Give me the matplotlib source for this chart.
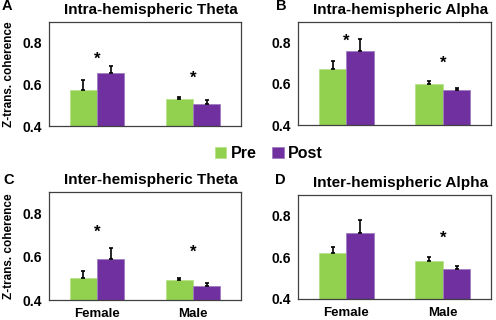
import numpy as np
import matplotlib
matplotlib.use("Agg")
import matplotlib.pyplot as plt

plt.rcParams['font.family'] = ['Liberation Sans', 'DejaVu Sans']
plt.rcParams['font.weight'] = 'bold'

groups = ['Female', 'Male']
titles = ['Intra-hemispheric Theta', 'Intra-hemispheric Alpha',
          'Inter-hemispheric Theta', 'Inter-hemispheric Alpha']
letters = ['A', 'B', 'C', 'D']

pre = [[0.572, 0.530], [0.673, 0.598], [0.504, 0.492], [0.619, 0.583]]
pre_err = [[0.049, 0.010], [0.038, 0.015], [0.028, 0.012], [0.029, 0.017]]
post = [[0.654, 0.507], [0.758, 0.569], [0.591, 0.465], [0.718, 0.541]]
post_err = [[0.035, 0.016], [0.058, 0.011], [0.048, 0.013], [0.063, 0.015]]
# significance stars: (group index, y)
stars = [[(0, 0.722), (1, 0.629)], [(0, 0.806), (1, 0.699)],
         [(0, 0.712), (1, 0.619)], [(1, 0.693)]]

green = '#92D050'
purple = '#7030A0'

fig = plt.figure(figsize=(4.96, 3.2), dpi=100)
boxes = [[0.099, 0.606, 0.387, 0.325], [0.601, 0.609, 0.389, 0.322],
         [0.099, 0.0625, 0.387, 0.3375], [0.601, 0.0666, 0.389, 0.324]]
letter_pos = [(0.004, 0.981), (0.556, 0.981), (0.006, 0.4375), (0.554, 0.4375)]

x = np.arange(len(groups))
w = 0.285
for i in range(4):
    ax = fig.add_axes(boxes[i])
    b1 = ax.bar(x - w / 2, pre[i], w, color=green, edgecolor='#b8e08a', linewidth=0.6,
                yerr=[[0, 0], pre_err[i]], error_kw=dict(ecolor='black', elinewidth=1.2, capsize=1.5, capthick=1.2),
                label='Pre')
    b2 = ax.bar(x + w / 2, post[i], w, color=purple, edgecolor='#a07cc0', linewidth=0.6,
                yerr=[[0, 0], post_err[i]], error_kw=dict(ecolor='black', elinewidth=1.2, capsize=1.5, capthick=1.2),
                label='Post')
    for g, yy in stars[i]:
        ax.text(x[g], yy, '*', ha='center', va='center', fontsize=12)
    ax.set_ylim(0.4, 0.9)
    ax.set_xlim(-0.5, 1.5)
    ax.set_yticks([0.4, 0.6, 0.8])
    ax.set_yticklabels(['0.4', '0.6', '0.8'], fontsize=10, fontweight='bold')
    ax.tick_params(axis='y', length=0, pad=5)
    ax.tick_params(axis='x', length=0, pad=6)
    if i >= 2:
        ax.set_xticks(x)
        ax.set_xticklabels(groups, fontsize=9.5, fontweight='bold')
    else:
        ax.set_xticks([])
    for s in ax.spines.values():
        s.set_color('#404040')
        s.set_linewidth(0.9)
    ax.set_title(titles[i], fontsize=11, fontweight='bold', pad=6, x=0.53)
    if i % 2 == 0:
        ax.set_ylabel('Z-trans. coherence', fontsize=8.5, fontweight='bold')
        ax.yaxis.set_label_coords(-0.18, 0.5)
    fig.text(letter_pos[i][0], letter_pos[i][1], letters[i],
             fontsize=10.5, fontweight='bold', va='center')

fig.legend([b1, b2], ['Pre', 'Post'], loc='center', bbox_to_anchor=(0.542, 0.52), ncol=2,
           frameon=False, prop={'weight': 'bold', 'size': 11.5}, handlelength=0.7,
           handleheight=0.7, handletextpad=0.3, columnspacing=1.0)

fig.savefig('out.png', dpi=100)
